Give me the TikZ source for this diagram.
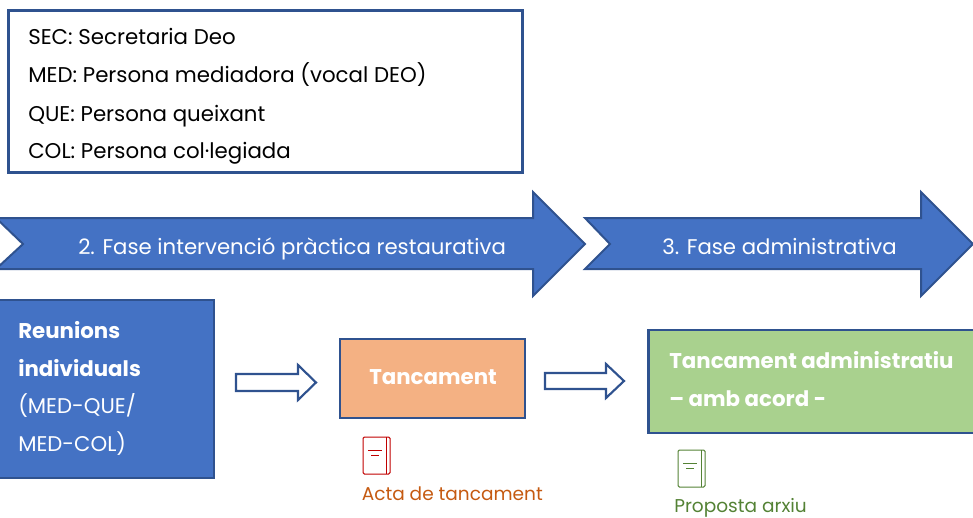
\documentclass[tikz,border=0pt]{standalone}
\usepackage{fontspec}
\setmainfont{Poppins}
\definecolor{edgeblue}{HTML}{2F528F}
\definecolor{fillblue}{HTML}{4472C4}
\definecolor{fillorange}{HTML}{F4B183}
\definecolor{fillgreen}{HTML}{A9D18E}
\definecolor{actared}{HTML}{C00000}
\definecolor{actatext}{HTML}{C55A11}
\definecolor{arxiu}{HTML}{548235}
\tikzset{
  x=0.75pt,y=-0.75pt,
  boxbase/.style={draw=edgeblue,line width=1.7pt,inner sep=0pt,outer sep=0pt,anchor=north west},
  blockarrow/.style={draw=edgeblue,line width=1.5pt,fill=fillblue,line join=miter},
  hollowarrow/.style={draw=edgeblue,line width=1.6pt,fill=white,line join=miter},
  lbl/.style={inner sep=0pt,anchor=base west,font=\fontsize{16}{19}\selectfont},
  wlbl/.style={inner sep=0pt,anchor=base west,text=white,font=\fontsize{15.93}{19}\selectfont},
  whead/.style={inner sep=0pt,anchor=base west,text=white,font=\fontsize{16}{19}\selectfont\bfseries},
  doclbl/.style={inner sep=0pt,anchor=base west,font=\fontsize{13.9}{17}\selectfont},
}
\newcommand{\bookicon}[2]{%
  \begin{scope}[shift={#1},draw=#2,line width=0.75pt]
    \draw[rounded corners=1pt] (0,0) rectangle (27,37);
    \draw (23,0) -- (23,37);
    \draw (5,13) -- (19,13);
    \draw (8,18) -- (16,18);
  \end{scope}}
\begin{document}
\begin{tikzpicture}
\useasboundingbox (0,0) rectangle (973,517);
% legend
\node[boxbase,fill=white,minimum width=514pt*0.75,minimum height=162pt*0.75] (legend) at (8.5,10.5) {};
\node[lbl] (l1) at (28,45) {SEC: Secretaria Deo};
\node[lbl] (l2) at (28,83) {MED: Persona mediadora (vocal DEO)};
\node[lbl] (l3) at (28,121) {QUE: Persona queixant};
\node[lbl] (l4) at (28,158) {COL: Persona col·legiada};
% phase arrows
\draw[blockarrow] (-4,218) -- (533,218) -- (533,192) -- (585,244) -- (533,296) -- (533,269) -- (-4,269) -- (23,244) -- cycle;
\draw[blockarrow] (585,218) -- (921,218) -- (921,192) -- (973,244) -- (921,296) -- (921,269) -- (585,269) -- (610,244) -- cycle;
\node[wlbl] (p2) at (78,254) {2. Fase intervenció pràctica restaurativa};
\node[wlbl] (p3) at (662,254) {3. Fase administrativa};
% boxes
\node[boxbase,fill=fillblue,minimum width=216pt*0.75,minimum height=178pt*0.75] (reunions) at (-2,300) {};
\node[whead] (r1) at (18,338) {Reunions};
\node[whead] (r2) at (18,376) {individuals};
\node[wlbl] (r3) at (18,413) {(MED-QUE/};
\node[wlbl] (r4) at (18,451) {MED-COL)};
\node[boxbase,fill=fillorange,minimum width=185pt*0.75,minimum height=79pt*0.75] (tanc) at (340,339) {};
\node[whead] (t1) at (369,384) {Tancament};
\node[boxbase,fill=fillgreen,minimum width=330pt*0.75,minimum height=103pt*0.75] (admin) at (648.5,330) {};
\node[whead] (a1) at (669,368) {Tancament administratiu};
\node[whead] (a2) at (669,406) {– amb acord -};
% hollow arrows
\draw[hollowarrow] (236,374) -- (298,374) -- (298,365) -- (316,382.5) -- (298,400) -- (298,391) -- (236,391) -- cycle;
\draw[hollowarrow] (545,373) -- (606,373) -- (606,364) -- (624,381) -- (606,398) -- (606,389) -- (545,389) -- cycle;
% documents
\bookicon{(363,437)}{actared}
\node[doclbl,text=actatext] (acta) at (361.5,500) {Acta de tancament};
\bookicon{(678,450)}{arxiu}
\node[doclbl,text=arxiu] (prop) at (674,512) {Proposta arxiu};
\end{tikzpicture}
\end{document}
